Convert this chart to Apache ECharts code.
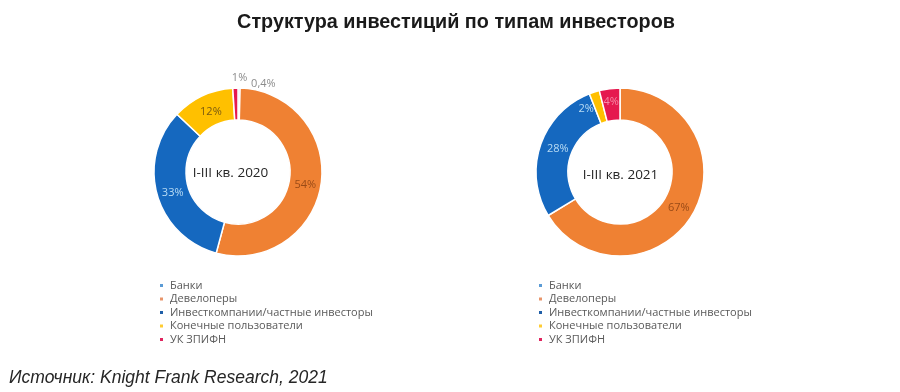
<!DOCTYPE html>
<html>
<head>
<meta charset="utf-8">
<script src="https://cdn.jsdelivr.net/npm/echarts@6/dist/echarts.min.js"></script>
<style>html,body{margin:0;padding:0;background:#fff}#c{width:900px;height:392px}</style>
</head>
<body>
<div id="c"></div>
<script>
const categories = ['Банки', 'Девелоперы', 'Инвесткомпании/частные инвесторы', 'Конечные пользователи', 'УК ЗПИФН'];
const values2020 = [0.4, 54, 33, 12, 1];
const labels2020 = ['0,4%', '54%', '33%', '12%', '1%'];
const values2021 = [0, 67, 28, 2, 4];
const labels2021 = ['', '67%', '28%', '2%', '4%'];
const periodLabels = ['I-III кв. 2020', 'I-III кв. 2021'];
const titleText = 'Структура инвестиций по типам инвесторов';
const sourceText = 'Источник: Knight Frank Research, 2021';

const sliceColors = ['#5b9bd5', '#ef8133', '#1568bf', '#ffc000', '#e5194f'];
const labelColors2020 = ['#8c8c8c', '#9a4b17', '#b9dcf4', '#7a5a10', '#8c8c8c'];
const labelColors2021 = ['#8c8c8c', '#9a4b17', '#b9dcf4', '#b9dcf4', '#f58aa6'];
const legendColors = ['#5b9bd5', '#e8956a', '#1f5fa8', '#ffcc33', '#e0245e'];

function buildData(values, labels, colors, outsideIdx) {
  return categories.map((name, i) => ({
    name: name,
    value: values[i],
    itemStyle: { color: sliceColors[i] },
    label: {
      formatter: labels[i],
      color: colors[i],
      position: outsideIdx.indexOf(i) >= 0 ? 'outside' : 'inside',
      show: labels[i] !== ''
    }
  }));
}

const chart = echarts.init(document.getElementById('c'), null, { renderer: 'canvas' });

const labelFont = '"Open Sans", sans-serif';

function pieSeries(center, data, shifts) {
  return {
    type: 'pie',
    center: center,
    radius: [52, 84],
    startAngle: 90,
    clockwise: true,
    avoidLabelOverlap: false,
    legendHoverLink: false,
    animation: false,
    itemStyle: { borderColor: '#fff', borderWidth: 1.5 },
    label: { fontSize: 11, fontFamily: labelFont },
    labelLine: { show: false, length: 4, length2: 0 },
    emphasis: { disabled: true },
    data: data,
    labelLayout: function (p) {
      const s = shifts[p.dataIndex];
      return s ? { dx: s[0], dy: s[1] } : {};
    }
  };
}

const legendBase = {
  orient: 'vertical',
  itemWidth: 5,
  itemHeight: 5,
  itemGap: 2.5,
  icon: 'rect',
  selectedMode: false,
  textStyle: { fontSize: 11, fontFamily: labelFont, color: '#595959', lineHeight: 11, padding: [0, 0, 0, 1] },
  data: categories.map((n, i) => ({ name: n, itemStyle: { color: legendColors[i] } }))
};

chart.setOption({
  backgroundColor: '#fff',
  title: [
    { text: titleText, left: 451, top: 8, textAlign: 'center', textStyle: { fontSize: 19.8, fontWeight: 'bold', fontFamily: 'Liberation Sans, Arial, sans-serif', color: '#1a1a1a' } },
    { text: sourceText, left: 4, top: 364, textStyle: { fontSize: 17.5, fontWeight: 'normal', fontStyle: 'italic', fontFamily: 'Liberation Sans, Arial, sans-serif', color: '#262626' } },
    { text: periodLabels[0], left: 225.5, top: 168, textAlign: 'center', textVerticalAlign: 'middle', textStyle: { fontSize: 13.5, fontWeight: 'normal', fontFamily: labelFont, color: '#262626' } },
    { text: periodLabels[1], left: 615.5, top: 170, textAlign: 'center', textVerticalAlign: 'middle', textStyle: { fontSize: 13.5, fontWeight: 'normal', fontFamily: labelFont, color: '#262626' } }
  ],
  legend: [
    Object.assign({}, legendBase, { left: 153, top: 275 }),
    Object.assign({}, legendBase, { left: 532, top: 275 })
  ],
  series: [
    pieSeries([238, 172], buildData(values2020, labels2020, labelColors2020, [0, 4]), { 0: [7, 0], 4: [17, -6], 3: [3, 4], 2: [3, 2], 1: [-3, 3] }),
    pieSeries([620, 172], buildData(values2021, labels2021, labelColors2021, []), { 3: [-12, 4], 2: [5, 0], 1: [-3, 1] })
  ]
});
</script>
</body>
</html>
